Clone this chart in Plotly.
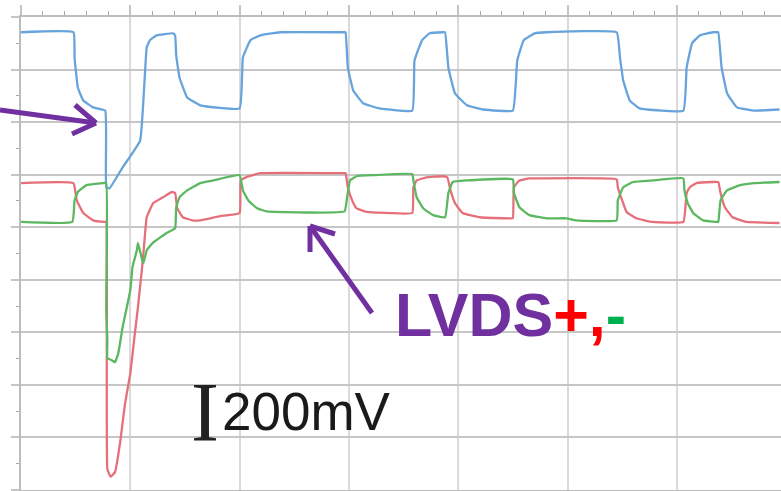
import plotly.graph_objects as go

# ---- data (time in divisions, voltage in divisions; 200 mV/div) ----
blue_t = [0.00, 0.48, 0.49, 0.52, 0.57, 0.66, 0.77, 0.78, 0.81, 0.93,
          1.09, 1.15, 1.18, 1.24, 1.39, 1.41, 1.42, 1.45, 1.52, 1.64,
          2.00, 2.03, 2.10, 2.19, 2.37, 2.96, 2.97, 2.99, 3.04, 3.13,
          3.28, 3.58, 3.60, 3.67, 3.74, 3.86, 3.88, 3.91, 3.97, 4.08,
          4.23, 4.50, 4.54, 4.60, 4.70, 4.81, 5.45, 5.48, 5.51, 5.57,
          5.66, 6.06, 6.09, 6.14, 6.21, 6.33, 6.37, 6.38, 6.41, 6.46,
          6.55, 6.70, 6.94]
blue_v = [8.71, 8.71, 8.23, 7.66, 7.41, 7.28, 7.22, 5.76, 5.74, 6.14,
          6.65, 8.42, 8.56, 8.65, 8.69, 8.65, 8.27, 7.85, 7.47, 7.32,
          7.26, 8.23, 8.56, 8.65, 8.71, 8.71, 8.71, 8.04, 7.60, 7.36,
          7.26, 7.22, 8.17, 8.56, 8.69, 8.71, 8.71, 8.04, 7.55, 7.32,
          7.24, 7.22, 8.17, 8.56, 8.69, 8.71, 8.71, 8.23, 7.79, 7.41,
          7.26, 7.22, 8.04, 8.50, 8.65, 8.71, 8.71, 8.71, 8.04, 7.55,
          7.28, 7.22, 7.24]

red_t = [0.00, 0.48, 0.51, 0.57, 0.66, 0.77, 0.78, 0.79, 0.82, 0.86,
         0.91, 0.95, 1.00, 1.04, 1.07, 1.11, 1.13, 1.15, 1.21, 1.30,
         1.38, 1.41, 1.43, 1.48, 1.57, 1.64, 1.82, 2.00, 2.01, 2.06,
         2.12, 2.19, 2.96, 2.97, 2.99, 3.03, 3.07, 3.17, 3.38, 3.58,
         3.59, 3.62, 3.71, 3.86, 3.90, 3.93, 3.97, 4.04, 4.20, 4.47,
         4.50, 4.51, 4.56, 4.65, 4.75, 5.45, 5.46, 5.50, 5.54, 5.63,
         5.78, 6.06, 6.09, 6.12, 6.18, 6.33, 6.38, 6.40, 6.44, 6.51,
         6.64, 6.94]
red_v = [5.84, 5.84, 5.51, 5.27, 5.13, 5.10, 5.10, 0.40, 0.25, 0.34,
         0.95, 1.62, 2.22, 2.95, 3.48, 4.28, 4.75, 5.19, 5.46, 5.57,
         5.67, 5.65, 5.36, 5.19, 5.13, 5.13, 5.21, 5.27, 5.89, 5.95,
         5.99, 6.03, 6.03, 6.03, 5.76, 5.51, 5.36, 5.29, 5.27, 5.27,
         5.76, 5.89, 5.95, 5.97, 5.95, 5.70, 5.46, 5.27, 5.19, 5.17,
         5.17, 5.76, 5.89, 5.93, 5.93, 5.91, 5.76, 5.51, 5.29, 5.17,
         5.10, 5.10, 5.65, 5.76, 5.84, 5.86, 5.86, 5.65, 5.38, 5.19,
         5.10, 5.08]

green_t = [0.00, 0.47, 0.49, 0.52, 0.60, 0.75, 0.78, 0.78, 0.79, 0.79,
           0.83, 0.86, 0.89, 0.93, 1.00, 1.02, 1.06, 1.07, 1.11, 1.12,
           1.15, 1.21, 1.34, 1.41, 1.42, 1.45, 1.52, 1.57, 1.64, 1.76,
           2.00, 2.03, 2.08, 2.16, 2.25, 2.96, 2.98, 3.01, 3.07, 3.22,
           3.58, 3.59, 3.62, 3.68, 3.77, 3.88, 3.91, 3.95, 4.08, 4.50,
           4.51, 4.56, 4.65, 4.81, 4.99, 5.08, 5.45, 5.46, 5.51, 5.60,
           5.78, 6.06, 6.07, 6.10, 6.15, 6.24, 6.37, 6.38, 6.40, 6.46,
           6.58, 6.71, 6.94]
green_v = [5.10, 5.10, 5.51, 5.67, 5.80, 5.84, 5.84, 3.42, 2.85, 2.51,
           2.47, 2.43, 2.60, 3.10, 3.80, 4.24, 4.56, 4.70, 4.37, 4.32,
           4.56, 4.71, 4.90, 4.98, 5.38, 5.57, 5.70, 5.76, 5.84, 5.89,
           5.99, 5.70, 5.51, 5.36, 5.30, 5.30, 5.51, 5.89, 5.97, 5.99,
           6.01, 5.89, 5.57, 5.36, 5.23, 5.19, 5.65, 5.86, 5.89, 5.91,
           5.65, 5.38, 5.23, 5.17, 5.17, 5.13, 5.13, 5.51, 5.76, 5.86,
           5.89, 5.93, 5.70, 5.46, 5.27, 5.13, 5.10, 5.10, 5.51, 5.70,
           5.80, 5.84, 5.86]

label_main = "LVDS"
label_scale = "200mV"

# ---- layout geometry ----
W, H = 781, 491
ML, MT, MR, MB = 21, 17, 0, 1
PW, PH = W - ML - MR, H - MT - MB
X_RANGE = [0, PW / 109.3]
Y_RANGE = [0, 9]


def paper(x_px, y_px):
    return (x_px - ML) / PW, (H - MB - y_px) / PH


fig = go.Figure()
LINE_KW = dict(width=2.3, shape="spline", smoothing=0.3)
fig.add_trace(go.Scatter(x=blue_t, y=blue_v, mode="lines",
                         line=dict(color="#67a3dc", **LINE_KW), showlegend=False))
fig.add_trace(go.Scatter(x=red_t, y=red_v, mode="lines",
                         line=dict(color="#e5707a", **LINE_KW), showlegend=False))
fig.add_trace(go.Scatter(x=green_t, y=green_v, mode="lines",
                         line=dict(color="#5cb860", **LINE_KW), showlegend=False))

PURPLE = "#7030A0"
shapes = []


def seg(p, q, w=5):
    x0, y0 = paper(*p)
    x1, y1 = paper(*q)
    shapes.append(dict(type="line", xref="paper", yref="paper",
                       x0=x0, y0=y0, x1=x1, y1=y1,
                       line=dict(color=PURPLE, width=w)))


# arrow 1 (left)
seg((0, 110), (96, 123))
seg((96, 123), (75, 105))
seg((96, 123), (72, 134))
# arrow 2 (to LVDS pair)
seg((372, 313), (310, 226))
seg((310, 226), (310, 252))
seg((310, 226), (335, 234))

annotations = []
ax, ay = paper(393, 315)
annotations.append(dict(
    xref="paper", yref="paper", x=ax, y=ay, xanchor="left", yanchor="middle",
    showarrow=False,
    text=("<b>" + label_main + "<span style='color:#FF0000'>+,</span>"
          "<span style='color:#00B050'>-</span></b>"),
    font=dict(family="Liberation Sans, Arial", size=61, color=PURPLE)))
ix, iy = paper(204.5, 413)
annotations.append(dict(
    xref="paper", yref="paper", x=ix, y=iy, xanchor="center", yanchor="middle",
    showarrow=False, text="I",
    font=dict(family="Liberation Serif, Times New Roman", size=84, color="#222222")))
sx, sy = paper(220, 411)
annotations.append(dict(
    xref="paper", yref="paper", x=sx, y=sy, xanchor="left", yanchor="middle",
    showarrow=False, text=label_scale,
    font=dict(family="Liberation Sans, Arial", size=53, color="#1a1a1a")))

fig.update_layout(
    width=W, height=H,
    margin=dict(l=ML, r=MR, t=MT, b=MB, pad=0),
    paper_bgcolor="white", plot_bgcolor="white",
    shapes=shapes, annotations=annotations,
    xaxis=dict(range=X_RANGE, side="top", dtick=1, tick0=0,
               showgrid=True, gridcolor="#dadada", gridwidth=1.5,
               ticks="outside", ticklen=10, tickcolor="#c4c4c4", tickwidth=1.5,
               showticklabels=False, showline=True, linecolor="#bdbdbd",
               linewidth=2, mirror=True, zeroline=False,
               minor=dict(dtick=0.2, tick0=0, ticks="outside", ticklen=4,
                          tickcolor="#a8a8a8", tickwidth=1, showgrid=False)),
    yaxis=dict(range=Y_RANGE, dtick=1, tick0=0,
               showgrid=True, gridcolor="#c6c6c6", gridwidth=2,
               ticks="outside", ticklen=8, tickcolor="#c6c6c6", tickwidth=2,
               showticklabels=False, showline=True, linecolor="#bcbcbc",
               linewidth=1.5, zeroline=False,
               minor=dict(dtick=0.5, tick0=0, ticks="outside", ticklen=3,
                          tickcolor="#a8a8a8", tickwidth=1, showgrid=False)),
)

fig.write_html("out.html")
